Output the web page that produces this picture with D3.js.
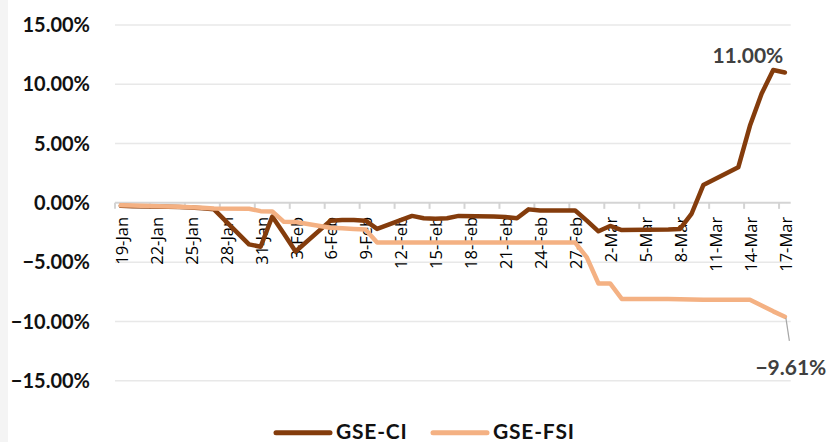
<!DOCTYPE html>
<html>
<head>
<meta charset="utf-8">
<script src="https://cdn.jsdelivr.net/npm/d3@7"></script>
<style>
  body { margin: 0; background: #fff; }
  svg { display: block; }
</style>
</head>
<body>
<script>
// trading days shown on the chart (weekends / 6-Mar holiday have no point)
const tradeDates = [
  '2023-01-19','2023-01-20','2023-01-23','2023-01-24','2023-01-25','2023-01-26','2023-01-27',
  '2023-01-30','2023-01-31','2023-02-01','2023-02-02','2023-02-03',
  '2023-02-06','2023-02-07','2023-02-08','2023-02-09','2023-02-10',
  '2023-02-13','2023-02-14','2023-02-15','2023-02-16','2023-02-17',
  '2023-02-20','2023-02-21','2023-02-22','2023-02-23','2023-02-24',
  '2023-02-27','2023-02-28','2023-03-01','2023-03-02','2023-03-03',
  '2023-03-07','2023-03-08','2023-03-09','2023-03-10',
  '2023-03-13','2023-03-14','2023-03-15','2023-03-16','2023-03-17'
];
const ciValues = [
  -0.25, -0.28, -0.33, -0.36, -0.40, -0.45, -0.55,
  -3.50, -3.70, -1.15, -2.60, -4.10,
  -1.50, -1.45, -1.45, -1.50, -2.20,
  -1.10, -1.30, -1.35, -1.30, -1.10,
  -1.15, -1.20, -1.30, -0.55, -0.65,
  -0.65, -1.50, -2.40, -1.95, -2.30,
  -2.25, -2.20, -0.90, 1.50,
  3.00, 6.50, 9.20, 11.20, 11.00
];
const fsiValues = [
  -0.20, -0.22, -0.30, -0.33, -0.38, -0.42, -0.47,
  -0.50, -0.70, -0.72, -1.60, -1.62,
  -2.10, -2.15, -2.20, -2.25, -3.35,
  -3.35, -3.35, -3.35, -3.35, -3.35,
  -3.35, -3.35, -3.35, -3.35, -3.35,
  -3.35, -4.60, -6.80, -6.80, -8.10,
  -8.10, -8.12, -8.15, -8.17,
  -8.17, -8.17, -8.65, -9.15, -9.61
];
const yTicks = [15, 10, 5, 0, -5, -10, -15];
const seriesNames = ['GSE-CI', 'GSE-FSI'];
const seriesColors = ['#843c0c', '#f4b183'];

const width = 829, height = 442;
const boldFont = 'Lato, "Noto Sans", sans-serif';
const axisFont = '"Open Sans", "Noto Sans", sans-serif';

const fmtKey = d3.timeFormat('%Y-%m-%d');
const parse = d3.timeParse('%Y-%m-%d');
const allDays = d3.timeDay.range(parse('2023-01-19'), parse('2023-03-18')).map(fmtKey);
const labelDays = allDays.filter((d, i) => i % 3 === 0);

const x = d3.scaleBand().domain(allDays).range([115, 790.7]);
const y = d3.scaleLinear().domain([-15, 15]).range([380.7, 25]);
const cx = d => x(d) + x.bandwidth() / 2;

const svg = d3.select('body').append('svg')
  .attr('width', width)
  .attr('height', height);

svg.append('rect').attr('width', width).attr('height', height).attr('fill', '#fff');
svg.append('rect').attr('width', 8).attr('height', height).attr('fill', '#f4f4f4');

// gridlines
svg.append('g')
  .selectAll('line')
  .data(yTicks.filter(t => t !== 0))
  .enter()
  .append('line')
  .attr('x1', 115).attr('x2', 790.7)
  .attr('y1', d => y(d)).attr('y2', d => y(d))
  .attr('stroke', '#e8e8e8')
  .attr('stroke-width', 1.5);

// y labels
svg.append('g')
  .selectAll('text')
  .data(yTicks)
  .enter()
  .append('text')
  .attr('x', 90)
  .attr('y', d => y(d))
  .attr('dy', '0.36em')
  .attr('text-anchor', 'end')
  .style('font-family', boldFont)
  .style('font-weight', 'bold')
  .style('font-size', '20px')
  .attr('fill', '#111')
  .text(d => d3.format('.2f')(d) + '%');

// x axis
const y0 = y(0);
const xAxis = svg.append('g')
  .attr('transform', `translate(0,${y0})`)
  .call(d3.axisBottom(x)
    .tickValues(labelDays)
    .tickSize(0)
    .tickFormat(d => d3.timeFormat('%-d-%b')(parse(d))));
xAxis.select('.domain').remove();
xAxis.selectAll('text')
  .attr('transform', 'rotate(-90)')
  .attr('x', -14)
  .attr('y', 1)
  .attr('dy', '0.36em')
  .attr('text-anchor', 'end')
  .style('font-family', axisFont)
  .style('font-size', '16.5px')
  .attr('fill', '#000');

svg.append('line')
  .attr('x1', 115).attr('x2', 790.7)
  .attr('y1', y0).attr('y2', y0)
  .attr('stroke', '#d4d4d4')
  .attr('stroke-width', 2);

svg.append('g')
  .selectAll('line')
  .data(labelDays)
  .enter()
  .append('line')
  .attr('x1', d => x(d)).attr('x2', d => x(d))
  .attr('y1', y0).attr('y2', y0 + 6)
  .attr('stroke', '#d4d4d4')
  .attr('stroke-width', 2);

// series
const line = d3.line()
  .x(d => cx(d.date))
  .y(d => y(d.v));

const series = [ciValues, fsiValues].map((vals, i) => ({
  name: seriesNames[i],
  color: seriesColors[i],
  points: tradeDates.map((date, j) => ({ date, v: vals[j] }))
}));

svg.append('g')
  .selectAll('path')
  .data(series)
  .enter()
  .append('path')
  .attr('d', d => line(d.points))
  .attr('fill', 'none')
  .attr('stroke', d => d.color)
  .attr('stroke-width', 4.5)
  .attr('stroke-linejoin', 'round')
  .attr('stroke-linecap', 'round');

// end labels
const lastDate = tradeDates[tradeDates.length - 1];
const ciLast = ciValues[ciValues.length - 1];
const fsiLast = fsiValues[fsiValues.length - 1];

svg.append('text')
  .attr('x', cx(lastDate) - 37)
  .attr('y', y(ciLast) - 9)
  .attr('text-anchor', 'middle')
  .style('font-family', boldFont)
  .style('font-weight', 'bold')
  .style('font-size', '21px')
  .attr('fill', '#404040')
  .text(d3.format('.2f')(ciLast) + '%');

svg.append('line')
  .attr('x1', cx(lastDate) + 1).attr('y1', y(fsiLast) + 1)
  .attr('x2', cx(lastDate) + 4.5).attr('y2', y(fsiLast) + 24)
  .attr('stroke', '#a6a6a6')
  .attr('stroke-width', 1.2);

svg.append('text')
  .attr('x', cx(lastDate) + 6)
  .attr('y', y(fsiLast) + 58)
  .attr('text-anchor', 'middle')
  .style('font-family', boldFont)
  .style('font-weight', 'bold')
  .style('font-size', '21px')
  .attr('fill', '#404040')
  .text(d3.format('.2f')(fsiLast) + '%');

// legend
const legendX = [276, 433];
const legend = svg.append('g')
  .selectAll('g')
  .data(series)
  .enter()
  .append('g')
  .attr('transform', (d, i) => `translate(${legendX[i]},432.7)`);

legend.append('line')
  .attr('x1', 0).attr('x2', 54)
  .attr('stroke', d => d.color)
  .attr('stroke-width', 5)
  .attr('stroke-linecap', 'round');

legend.append('text')
  .attr('x', 60)
  .attr('y', 6)
  .style('font-family', boldFont)
  .style('font-weight', 'bold')
  .style('font-size', '21px')
  .style('letter-spacing', '0.8px')
  .attr('fill', '#111')
  .text(d => d.name);
</script>
</body>
</html>
